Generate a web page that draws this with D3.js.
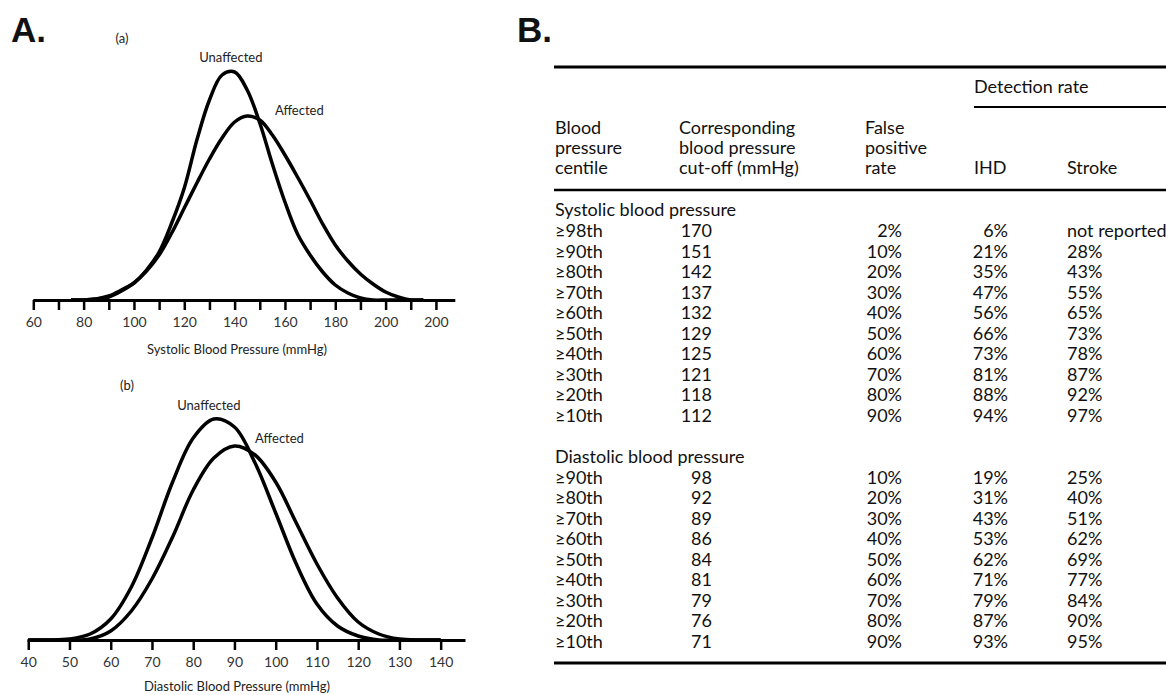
<!DOCTYPE html>
<html>
<head>
<meta charset="utf-8">
<script src="https://cdn.jsdelivr.net/npm/d3@7"></script>
<style>
    body { margin: 0; background: #fff; }
    svg { display: block; }
    text { font-family: Lato, "Open Sans", sans-serif; fill: #111; }
</style>
</head>
<body>
<div id="window"></div>
<script>
// panel (a): systolic distributions, heights
const sysBP = [75, 80, 85, 90, 95, 100, 105, 110, 115, 120, 125, 130, 135, 140, 145, 150, 155, 160, 165, 170, 175, 180, 185, 190, 195, 200, 205, 210, 215];
const sysUnaffected = [0, 0, 1, 4, 10, 17, 30, 48, 77, 112, 160, 200, 225, 228, 210, 177, 136, 98, 66, 45, 28, 15, 7, 2, 0, 0, 0, 0, 0];
const sysAffected = [0, 0, 1, 3, 9, 17, 29, 45, 67, 92, 117, 141, 162, 178, 184, 180, 165, 145, 123, 100, 76, 55, 39, 26, 16, 8, 3, 0, 0];
const sysTicks = [60, 70, 80, 90, 100, 110, 120, 130, 140, 150, 160, 170, 180, 190, 200, 210, 220];
const sysTickLabels = ["60", "", "80", "", "100", "", "120", "", "140", "", "160", "", "180", "", "200", "", "200"];

// panel (b): diastolic distributions
const diaBP = [40, 45, 50, 55, 60, 65, 70, 75, 80, 85, 90, 95, 100, 105, 110, 115, 120, 125, 130, 135, 140];
const diaUnaffected = [0, 0, 1, 6, 21, 53, 102, 158, 202, 221, 213, 177, 127, 76, 36, 14, 4, 0, 0, 0, 0];
const diaAffected = [0, 0, 0, 1, 9, 29, 61, 103, 150, 182, 194, 185, 158, 117, 76, 42, 18, 6, 1, 0, 0];
const diaTicks = [40, 50, 60, 70, 80, 90, 100, 110, 120, 130, 140];
const diaTickLabels = ["40", "50", "60", "70", "80", "90", "100", "110", "120", "130", "140"];

// table B
const sysCentiles = ["≥98th", "≥90th", "≥80th", "≥70th", "≥60th", "≥50th", "≥40th", "≥30th", "≥20th", "≥10th"];
const sysCutoff = [170, 151, 142, 137, 132, 129, 125, 121, 118, 112];
const sysFalsePos = [2, 10, 20, 30, 40, 50, 60, 70, 80, 90];
const sysIHD = [6, 21, 35, 47, 56, 66, 73, 81, 88, 94];
const sysStroke = [null, 28, 43, 55, 65, 73, 78, 87, 92, 97];

const diaCentiles = ["≥90th", "≥80th", "≥70th", "≥60th", "≥50th", "≥40th", "≥30th", "≥20th", "≥10th"];
const diaCutoff = [98, 92, 89, 86, 84, 81, 79, 76, 71];
const diaFalsePos = [10, 20, 30, 40, 50, 60, 70, 80, 90];
const diaIHD = [19, 31, 43, 53, 62, 71, 79, 87, 93];
const diaStroke = [25, 40, 51, 62, 69, 77, 84, 90, 95];

let w = 1166, h = 695;
let svg = d3.select("#window").append("svg")
    .attr("width", w)
    .attr("height", h);

// panel letters
svg.append("text").text("A.")
    .attr("x", 11).attr("y", 42)
    .style("font-family", "'Liberation Sans', Arial, sans-serif")
    .style("font-weight", "bold").style("font-size", "35px");
svg.append("text").text("B.")
    .attr("x", 517).attr("y", 42)
    .style("font-family", "'Liberation Sans', Arial, sans-serif")
    .style("font-weight", "bold").style("font-size", "35px");

function drawPanel(p) {
    let g = svg.append("g");
    let x = d3.scaleLinear().domain(p.domain).range(p.range);
    let y = d3.scaleLinear().domain([0, 240]).range([p.axisY, p.axisY - 240]);

    // axis
    let axis = d3.axisBottom(x)
        .tickValues(p.ticks)
        .tickSize(10)
        .tickSizeOuter(0)
        .tickPadding(7)
        .tickFormat((d, i) => p.tickLabels[i]);
    let ax = g.append("g")
        .attr("transform", "translate(0," + p.axisY + ")")
        .call(axis)
        .attr("font-family", null)
        .attr("font-size", null);
    ax.select(".domain").attr("stroke", "#000").attr("stroke-width", 3);
    ax.selectAll(".tick line").attr("stroke", "#000").attr("stroke-width", 2.5);
    ax.selectAll(".tick text").style("font-size", "14px").style("fill", "#333");

    // curves
    let line = d3.line()
        .x(d => x(d[0]))
        .y(d => y(Math.max(0, d[1])))
        .curve(d3.curveCatmullRom.alpha(0.5));
    [p.unaffected, p.affected].forEach(vals => {
        g.append("path")
            .datum(p.bp.map((b, i) => [b, vals[i]]))
            .attr("d", line)
            .attr("fill", "none")
            .attr("stroke", "#000")
            .attr("stroke-width", 3.5)
            .attr("stroke-linejoin", "round");
    });

    // curve labels
    g.append("text").text("Unaffected")
        .attr("x", x(p.unLabel[0])).attr("y", y(p.unLabel[1]))
        .attr("dy", "0.35em").attr("text-anchor", "middle")
        .style("font-size", "13px").style("fill", "#222");
    g.append("text").text("Affected")
        .attr("x", x(p.afLabel[0])).attr("y", y(p.afLabel[1]))
        .attr("dy", "0.35em")
        .style("font-size", "13px").style("fill", "#222");

    // sub-panel tag and axis title
    g.append("text").text(p.tag)
        .attr("x", p.tagPos[0]).attr("y", p.tagPos[1])
        .attr("dy", "0.35em").attr("text-anchor", "middle")
        .style("font-size", "13px").style("fill", "#222");
    g.append("text").text(p.title)
        .attr("x", 237).attr("y", p.axisY + p.titleGap)
        .attr("dy", "0.35em").attr("text-anchor", "middle")
        .style("font-size", "13px").style("fill", "#222");
}

drawPanel({
    domain: [59.8, 227.5], range: [32.8, 454.8], axisY: 300,
    ticks: sysTicks, tickLabels: sysTickLabels,
    bp: sysBP, unaffected: sysUnaffected, affected: sysAffected,
    unLabel: [138.5, 243], afLabel: [156, 190],
    tag: "(a)", tagPos: [122, 38],
    title: "Systolic Blood Pressure (mmHg)", titleGap: 49
});
drawPanel({
    domain: [39.7, 145.9], range: [27, 465], axisY: 640,
    ticks: diaTicks, tickLabels: diaTickLabels,
    bp: diaBP, unaffected: diaUnaffected, affected: diaAffected,
    unLabel: [83.8, 235], afLabel: [95, 202],
    tag: "(b)", tagPos: [127, 385],
    title: "Diastolic Blood Pressure (mmHg)", titleGap: 46
});

// ---- table B ----
let tbl = svg.append("g").style("font-size", "18px");
let tableLeft = 554;
let col = { centile: 555, cutoff: 712, fpr: 902, ihd: 1008, stroke: 1067 };

function rule(x1, x2, yy, sw) {
    tbl.append("line")
        .attr("x1", x1).attr("x2", x2)
        .attr("y1", yy).attr("y2", yy)
        .attr("stroke", "#000").attr("stroke-width", sw);
}
rule(tableLeft, w, 67, 3);
rule(974, w, 107, 2);
rule(tableLeft, w, 190, 2.5);
rule(tableLeft, w, 663, 3);

function cell(txt, xx, yy, anchor) {
    tbl.append("text").text(txt)
        .attr("x", xx).attr("y", yy)
        .attr("dy", "0.36em")
        .attr("text-anchor", anchor || "start");
}

// header
cell("Detection rate", 974, 87);
let headers = [
    { x: 555, lines: ["Blood", "pressure", "centile"] },
    { x: 679, lines: ["Corresponding", "blood pressure", "cut-off (mmHg)"] },
    { x: 865, lines: ["False", "positive", "rate"] },
    { x: 974, lines: ["", "", "IHD"] },
    { x: 1067, lines: ["", "", "Stroke"] }
];
headers.forEach(hd => {
    hd.lines.forEach((t, i) => { if (t) cell(t, hd.x, 128 + i * 20); });
});

// body rows
let rowStep = 20.55;
let rowY = k => 210 + k * rowStep;
let pct = v => v + "%";

cell("Systolic blood pressure", col.centile, rowY(0));
sysCentiles.forEach((c, i) => {
    let yy = rowY(1 + i);
    cell(c, col.centile, yy);
    cell(sysCutoff[i], col.cutoff, yy, "end");
    cell(pct(sysFalsePos[i]), col.fpr, yy, "end");
    cell(pct(sysIHD[i]), col.ihd, yy, "end");
    cell(sysStroke[i] === null ? "not reported" : pct(sysStroke[i]), col.stroke, yy);
});

cell("Diastolic blood pressure", col.centile, rowY(12));
diaCentiles.forEach((c, i) => {
    let yy = rowY(13 + i);
    cell(c, col.centile, yy);
    cell(diaCutoff[i], col.cutoff, yy, "end");
    cell(pct(diaFalsePos[i]), col.fpr, yy, "end");
    cell(pct(diaIHD[i]), col.ihd, yy, "end");
    cell(pct(diaStroke[i]), col.stroke, yy);
});
</script>
</body>
</html>
